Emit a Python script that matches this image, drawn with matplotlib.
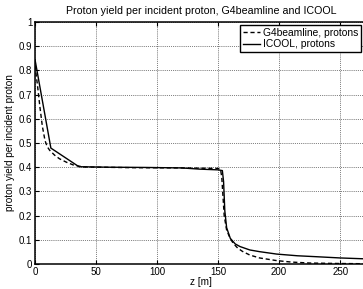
import matplotlib
matplotlib.use('Agg')
import matplotlib.pyplot as plt

# ICOOL, protons (solid)
z_icool = [0, 13, 36, 60, 90, 120, 135, 150, 153.5, 154.5, 155.5, 157, 160,
           164, 168, 176, 184, 198, 215, 231, 250, 272]
y_icool = [0.845, 0.479, 0.402, 0.400, 0.399, 0.397, 0.392, 0.389, 0.386, 0.34,
           0.22, 0.15, 0.106, 0.083, 0.072, 0.058, 0.051, 0.041, 0.034, 0.030,
           0.025, 0.021]

# G4beamline, protons (dashed)
z_g4 = [0, 2, 4, 6, 8.2, 10, 12, 16, 20, 26, 32, 40, 80, 120, 150, 152, 153,
        154, 155, 157, 160, 162.5, 166, 170, 176, 184, 198, 210, 225, 250, 272]
y_g4 = [0.82, 0.74, 0.65, 0.57, 0.51, 0.485, 0.47, 0.45, 0.435, 0.42, 0.408,
        0.401, 0.398, 0.397, 0.395, 0.39, 0.36, 0.28, 0.2, 0.14, 0.105, 0.085,
        0.066, 0.052, 0.037, 0.025, 0.014, 0.008, 0.004, 0.002, 0.001]

x_ticks = [0, 50, 100, 150, 200, 250]
y_ticks = [0, 0.1, 0.2, 0.3, 0.4, 0.5, 0.6, 0.7, 0.8, 0.9, 1]
y_ticklabels = ['0', '0.1', '0.2', '0.3', '0.4', '0.5', '0.6', '0.7', '0.8', '0.9', '1']

plt.rcParams['font.family'] = ['Liberation Sans', 'DejaVu Sans']

W, H = 363, 289
fig = plt.figure(figsize=(W / 100, H / 100), dpi=100)
# axes run past the right edge of the picture, as in the reference
ax = fig.add_axes([35 / W, 25 / H, 332 / W, 242 / H])

ax.plot(z_g4, y_g4, color='k', lw=1.0, linestyle=(0, (3, 2)), label='G4beamline, protons')
ax.plot(z_icool, y_icool, color='k', lw=1.0, label='ICOOL, protons')

ax.set_xlim(0, 272)
ax.set_ylim(0, 1)
ax.set_xticks(x_ticks)
ax.set_yticks(y_ticks)
ax.set_yticklabels(y_ticklabels)
ax.tick_params(direction='in', length=3, width=0.8, top=True, right=True,
               labelsize=7, pad=2)
ax.grid(True, color='0.2', linestyle=(0, (1, 1.5)), linewidth=0.55)
for s in ax.spines.values():
    s.set_linewidth(1.1)

ax.set_title('Proton yield per incident proton, G4beamline and ICOOL', fontsize=7.7, pad=6)
ax.set_xlabel('z [m]', fontsize=7.2, labelpad=0)
ax.set_ylabel('proton yield per incident proton', fontsize=7.2, labelpad=3)

leg = ax.legend(loc='upper left', bbox_to_anchor=(240 / W, 1 - 24.5 / H),
                bbox_transform=fig.transFigure, borderaxespad=0, fontsize=7.4,
                handlelength=1.6, handletextpad=0.3, borderpad=0.3,
                labelspacing=0.15, fancybox=False, framealpha=1)
leg.get_frame().set_edgecolor('k')
leg.get_frame().set_linewidth(1.0)

fig.savefig('out.png', dpi=100)
